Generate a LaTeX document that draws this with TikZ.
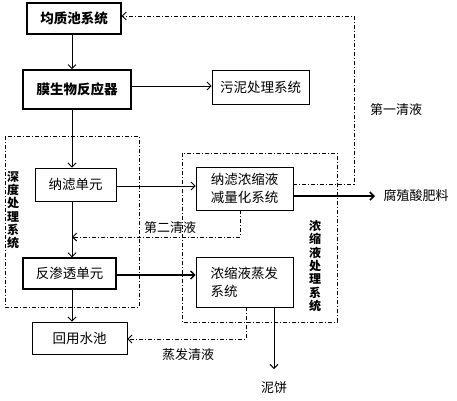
\documentclass[tikz,border=0pt]{standalone}
\usepackage{fontspec}
\newfontfamily\cjk{Noto Sans CJK SC}
\usetikzlibrary{arrows.meta}
\tikzset{
  box/.style={draw, line width=0.9pt, minimum width=#1, inner sep=0pt, font=\cjk\fontsize{13.5}{18}\selectfont},
  boldbox/.style={box=#1, line width=1.3pt, font=\cjk\bfseries\fontsize{13.5}{18}\selectfont},
  arr/.style={-{Straight Barb[length=4pt,width=8pt]}, line width=0.9pt},
  darr/.style={-{Straight Barb[length=4pt,width=8pt]}, line width=0.9pt, dash pattern=on 4pt off 2pt on 1pt off 2pt},
  group/.style={draw, line width=0.9pt, dash pattern=on 4pt off 2pt on 1pt off 2pt},
  lbl/.style={font=\cjk\fontsize{13}{15}\selectfont, inner sep=0pt},
  vlbl/.style={font=\cjk\bfseries\fontsize{12}{13.3}\selectfont, align=center, inner sep=0pt},
}
\begin{document}
\begin{tikzpicture}[x=1pt,y=-1pt]
\useasboundingbox (0,0) rectangle (457,400);
% groups
\draw[group] (5,136) rectangle (139,307);
\draw[group] (182,153) rectangle (337,322);
\node[vlbl] (sdl) at (13,210) {深\\度\\处\\理\\系\\统};
\node[vlbl] (nsl) at (315,266) {浓\\缩\\液\\处\\理\\系\\统};
% boxes
\node[boldbox=94pt, minimum height=31pt] (jz) at (74,18.5) {均质池系统};
\node[boldbox=108pt, minimum height=39pt, line width=1.6pt] (mbr) at (77,89.5) {膜生物反应器};
\node[box=97pt, minimum height=34pt] (wn) at (260.5,87) {污泥处理系统};
\node[box=81pt, minimum height=33pt] (nl) at (75.5,184.5) {纳滤单元};
\node[box=97pt, minimum height=43pt, align=left] (nlns) at (244.5,188.5) {纳滤浓缩液\\减量化系统};
\node[box=93pt, minimum height=31pt, line width=1.4pt] (fst) at (69.5,273.5) {反渗透单元};
\node[box=97pt, minimum height=50pt, align=left, text width=68pt] (zf) at (244.5,282) {浓缩液蒸发\\系统};
\node[box=95pt, minimum height=32pt] (hy) at (79.5,338) {回用水池};
% labels
\node[lbl] (fz) at (416,196) {腐殖酸肥料};
\node[lbl] (nb) at (274,388) {泥饼};
\node[lbl] (q1) at (396,110) {第一清液};
\node[lbl] (q2) at (170,228) {第二清液};
\node[lbl] (q3) at (188,355) {蒸发清液};
\coordinate (fzend) at (375,196);
\coordinate (nbend) at (274,369);
% connectors
\draw[arr] (jz.south -| 72,0) -- (mbr.north -| 72,0);
\draw[arr] (mbr.east |- 0,86) -- (wn.west |- 0,86);
\draw[arr] (mbr.south -| 72,0) -- (nl.north -| 72,0);
\draw[arr] (nl.east |- 0,186) -- (nlns.west |- 0,186);
\draw[arr] (nl.south -| 72,0) -- (fst.north -| 72,0);
\draw[arr, line width=1.4pt] (fst.east |- 0,275) -- (zf.west |- 0,275);
\draw[arr] (fst.south -| 72,0) -- (hy.north -| 72,0);
\draw[arr, line width=1.6pt] (nlns.east |- 0,196) -- (fzend);
\draw[arr] (zf.south -| 274,0) -- (nbend);
\draw[darr] (nlns.east |- 0,184) -- (354,184) -- (354,16) -- (jz.east |- 0,16);
\draw[darr] (nlns.south -| 240,0) -- (240,237) -- (72,237);
\draw[darr] (zf.south -| 246,0) -- (246,339) -- (hy.east |- 0,339);
\end{tikzpicture}
\end{document}
